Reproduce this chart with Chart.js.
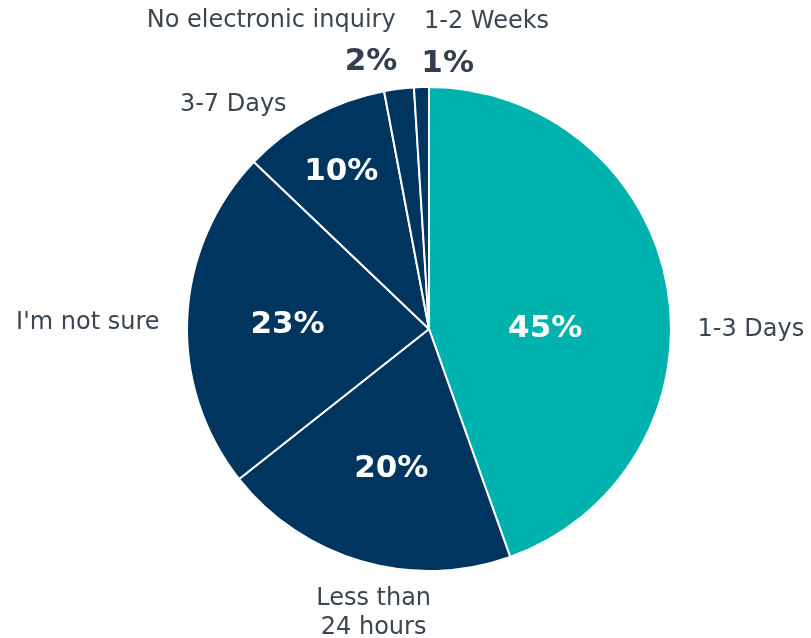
<!DOCTYPE html>
<html>
<head>
<meta charset="utf-8">
<script src="https://cdn.jsdelivr.net/npm/chart.js@4/dist/chart.umd.min.js"></script>
<style>
    html, body { margin: 0; padding: 0; background: #fff; }
    #wrap { width: 811px; height: 638px; }
</style>
</head>
<body>
<div id="wrap"><canvas id="chartArea" width="811" height="638"></canvas></div>
<script>
// data
var categories = ['1-3 Days', ['Less than', '24 hours'], "I'm not sure", '3-7 Days', 'No electronic inquiry', '1-2 Weeks'];
var percentValues = [45, 20, 23, 10, 2, 1];
var sliceColors = ['#00B2AE', '#00355F', '#00355F', '#00355F', '#00355F', '#00355F'];

// label placement around each slice: radius factor + angle nudge (degrees)
var catPlace = [[1.33, 10], [1.195, -5], [1.41, -1.7], [1.23, -12.6], [1.43, -20], [1.29, 12.4]];
var pctPlace = [[0.48, 9.8], [0.6, -1], [0.585, -1.1], [0.745, -0.6], [1.13, -5.1], [1.10, 5.8]];
var pctInside = [true, true, true, true, false, false];

var labelPlugin = {
    id: 'sliceLabels',
    afterDraw: function (chart) {
        var c = chart.ctx;
        var meta = chart.getDatasetMeta(0);
        c.save();
        c.textAlign = 'center';
        c.textBaseline = 'middle';
        meta.data.forEach(function (arc, i) {
            var p = arc.getProps(['x', 'y', 'startAngle', 'endAngle', 'outerRadius'], true);
            var mid = (p.startAngle + p.endAngle) / 2;
            var pos = function (pl) {
                var a = mid + pl[1] * Math.PI / 180;
                return { x: p.x + Math.cos(a) * p.outerRadius * pl[0], y: p.y + Math.sin(a) * p.outerRadius * pl[0] };
            };
            // category name
            var q = pos(catPlace[i]);
            c.font = '24px "DejaVu Sans", Verdana, sans-serif';
            c.fillStyle = '#3B4652';
            var lines = Array.isArray(categories[i]) ? categories[i] : [categories[i]];
            var lh = 29;
            lines.forEach(function (ln, k) {
                c.fillText(ln, q.x, q.y + (k - (lines.length - 1) / 2) * lh);
            });
            // percent
            var s = pos(pctPlace[i]);
            c.font = 'bold 31px "DejaVu Sans", Verdana, sans-serif';
            c.fillStyle = pctInside[i] ? '#FFFFFF' : '#333F4F';
            c.fillText(percentValues[i] + '%', s.x, s.y);
        });
        c.restore();
    }
};

var ctx = document.getElementById('chartArea').getContext('2d');
var myPie = new Chart(ctx, {
    type: 'pie',
    data: {
        labels: categories,
        datasets: [{
            data: percentValues,
            backgroundColor: sliceColors,
            borderColor: '#FFFFFF',
            borderWidth: 2
        }]
    },
    options: {
        responsive: false,
        animation: false,
        layout: { padding: { top: 86, bottom: 66, left: 186, right: 139 } },
        plugins: {
            legend: { display: false },
            tooltip: { enabled: false }
        }
    },
    plugins: [labelPlugin]
});
</script>
</body>
</html>
